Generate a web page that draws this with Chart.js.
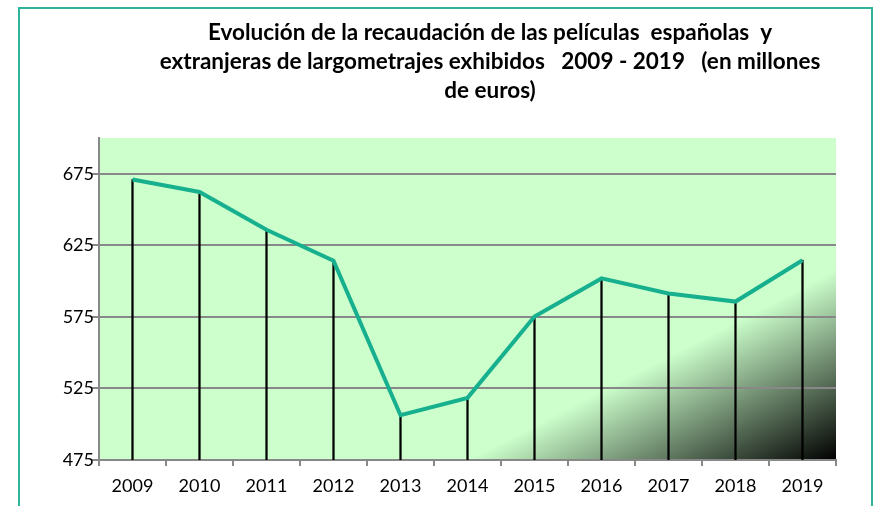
<!DOCTYPE html>
<html>
<head>
<meta charset="utf-8">
<script src="https://cdn.jsdelivr.net/npm/chart.js@4.4.1/dist/chart.umd.min.js"></script>
<style>
  body { margin: 0; background: #fff; }
  #frame {
    position: absolute; left: 18px; top: 7px; width: 851px; height: 530px;
    border: 2px solid #2db59b;
  }
  #wrap { position: absolute; left: 0; top: 0; width: 877px; height: 506px; }
</style>
</head>
<body>
<div id="frame"></div>
<div id="wrap"><canvas id="recaudacionChart" width="877" height="506"></canvas></div>
<script>
// Datos (millones de euros)
const years = ["2009", "2010", "2011", "2012", "2013", "2014", "2015", "2016", "2017", "2018", "2019"];
const recaudacion = [671.0, 662.3, 635.9, 614.2, 506.3, 518.4, 575.2, 601.9, 591.4, 585.7, 614.6];
const yTicks = [475, 525, 575, 625, 675];
const yMin = 475;
const yMax = 700;
const titleLines = [
  "Evolución de la recaudación de las películas  españolas  y",
  "extranjeras de largometrajes exhibidos   2009 - 2019   (en millones",
  "de euros)"
];

// Fondo verde con degradado a negro en la esquina inferior derecha
const plotBackground = {
  id: "plotBackground",
  beforeDraw(chart) {
    const { ctx, chartArea: a } = chart;
    const w = a.right - a.left, h = a.bottom - a.top;
    // linea donde empieza el degradado
    const p1x = a.left + 0.5 * w, p1y = a.bottom;
    const p2x = a.right, p2y = a.bottom - 0.59 * h;
    let ux = p1y - p2y, uy = p2x - p1x;
    const len = Math.hypot(ux, uy);
    ux /= len; uy /= len;
    const d = (a.right - p1x) * ux + (a.bottom - p1y) * uy;
    const g = ctx.createLinearGradient(a.right - d * ux, a.bottom - d * uy, a.right, a.bottom);
    g.addColorStop(0, "#ccffcc");
    g.addColorStop(1, "#000000");
    ctx.save();
    ctx.fillStyle = g;
    ctx.fillRect(a.left, a.top, w, h);
    ctx.restore();
  }
};

// Titulo centrado como en el original
const chartTitle = {
  id: "chartTitle",
  afterDraw(chart) {
    const ctx = chart.ctx;
    ctx.save();
    ctx.font = "bold 22.5px Lato";
    ctx.fillStyle = "#000";
    ctx.textAlign = "center";
    ctx.textBaseline = "middle";
    titleLines.forEach((line, i) => ctx.fillText(line, 490, 33 + i * 29));
    ctx.restore();
  }
};

const ctx = document.getElementById("recaudacionChart").getContext("2d");
const chart = new Chart(ctx, {
  type: "bar",
  data: {
    labels: years,
    datasets: [
      {
        type: "line",
        label: "Recaudación",
        data: recaudacion,
        borderColor: "#17b08e",
        borderWidth: 4,
        pointRadius: 0,
        tension: 0,
        order: 0,
      },
      {
        type: "bar",
        label: "Líneas",
        data: recaudacion.map((v) => [yMin, v]),
        backgroundColor: "#000",
        barThickness: 1.6,
        order: 1,
      },
    ],
  },
  options: {
    responsive: false,
    animation: false,
    layout: { padding: { top: 138, right: 41, left: 0, bottom: 0 } },
    plugins: {
      legend: { display: false },
      title: { display: false },
      tooltip: { enabled: false },
    },
    scales: {
      x: {
        offset: true,
        grid: {
          offset: true,
          drawOnChartArea: false,
          drawTicks: true,
          tickLength: 6,
          color: "#888",
          lineWidth: 2,
        },
        border: { display: true, color: "#888", width: 2 },
        ticks: { color: "#000", font: { family: "Lato", size: 18 }, padding: 9 },
        afterFit(scale) { scale.height = 46; },
      },
      y: {
        min: yMin,
        max: yMax,
        afterBuildTicks(scale) {
          scale.ticks = yTicks.map((v) => ({ value: v }));
        },
        grid: { color: "#888", lineWidth: 2, tickLength: 7 },
        border: { display: true, color: "#888", width: 2 },
        ticks: { color: "#000", font: { family: "Lato", size: 18 }, padding: -2 },
        afterFit(scale) { scale.width = 99; },
      },
    },
  },
  plugins: [plotBackground, chartTitle],
});
</script>
</body>
</html>
